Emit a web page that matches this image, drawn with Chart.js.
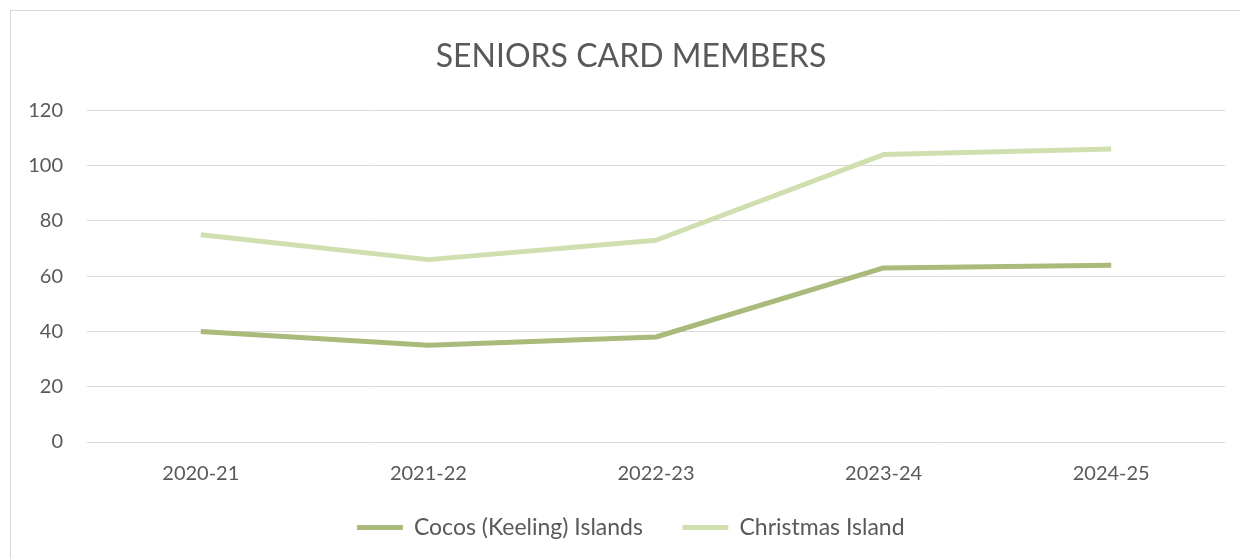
<!DOCTYPE html>
<html>
<head>
<meta charset="utf-8">
<script src="https://cdn.jsdelivr.net/npm/chart.js@4"></script>
<style>
  html, body { margin: 0; padding: 0; background: #fff; overflow: hidden; }
  #frame {
    position: absolute; left: 10px; top: 10px; width: 1240px; height: 560px;
    border-left: 1px solid #d9d9d9; border-top: 1px solid #d9d9d9;
  }
  #wrap { position: absolute; left: 0; top: 0; width: 1240px; height: 559px; }
</style>
</head>
<body>
<div id="frame"></div>
<div id="wrap"><canvas id="myChart"></canvas></div>
<script>
// seniors card members by year
var years = ['2020-21', '2021-22', '2022-23', '2023-24', '2024-25'];
var cocos = [40, 35, 38, 63, 64];
var christmas = [75, 66, 73, 104, 106];
var yTicks = [0, 20, 40, 60, 80, 100, 120];

var font = 'Lato, "Open Sans", sans-serif';
var grey = '#595959';

// title and legend are centred on the outer frame, not the canvas;
// the legend is also pulled up a little (its wide padding pads it vertically too)
var centreOnFrame = {
    id: 'centreOnFrame',
    afterLayout: function (chart) {
        chart.titleBlock.left = 37;
        chart.legend.left = 37;
        chart.legend.top -= 8;
    }
};

var dates = {
    type: 'line',
    data: {
        labels: years,
        datasets: [{
            label: 'Cocos (Keeling) Islands',
            data: cocos,
            borderColor: '#a9ba7b',
            backgroundColor: '#a9ba7b',
            borderWidth: 5,
            pointRadius: 0,
            tension: 0,
            borderJoinStyle: 'round'
        }, {
            label: 'Christmas Island',
            data: christmas,
            borderColor: '#d0dfb0',
            backgroundColor: '#d0dfb0',
            borderWidth: 5,
            pointRadius: 0,
            tension: 0,
            borderJoinStyle: 'round'
        }]
    },
    options: {
        responsive: false,
        animation: false,
        layout: { padding: { top: 10, right: 15, bottom: 2, left: 0 } },
        plugins: {
            title: {
                display: true,
                text: 'SENIORS CARD MEMBERS',
                color: grey,
                font: { family: font, size: 32, weight: 'normal' },
                padding: { top: 27, bottom: 35 }
            },
            legend: {
                position: 'bottom',
                labels: {
                    color: grey,
                    font: { family: font, size: 23 },
                    boxWidth: 45,
                    boxHeight: 4,
                    padding: 40,
                    generateLabels: function (chart) {
                        return chart.data.datasets.map(function (ds, i) {
                            return {
                                text: ds.label,
                                fillStyle: ds.borderColor,
                                strokeStyle: ds.borderColor,
                                lineWidth: 1,
                                fontColor: grey,
                                datasetIndex: i
                            };
                        });
                    }
                }
            },
            tooltip: { enabled: false }
        },
        scales: {
            x: {
                offset: true,
                grid: { display: false, drawTicks: false },
                border: { display: false },
                ticks: { color: grey, font: { family: font, size: 20 }, padding: 20 },
                afterFit: function (s) { s.height = 42; }
            },
            y: {
                min: 0,
                max: 120,
                afterBuildTicks: function (s) { s.ticks = yTicks.map(function (v) { return { value: v }; }); },
                grid: { color: '#d9d9d9', lineWidth: 1, drawTicks: false },
                border: { display: false },
                ticks: { color: grey, font: { family: font, size: 20 }, padding: 24 },
                afterFit: function (s) { s.width = 87; }
            }
        }
    },
    plugins: [centreOnFrame]
};

const ctx = document.getElementById('myChart');
ctx.width = 1240;
ctx.height = 559;
const myChart = new Chart(ctx, dates);
</script>
</body>
</html>
